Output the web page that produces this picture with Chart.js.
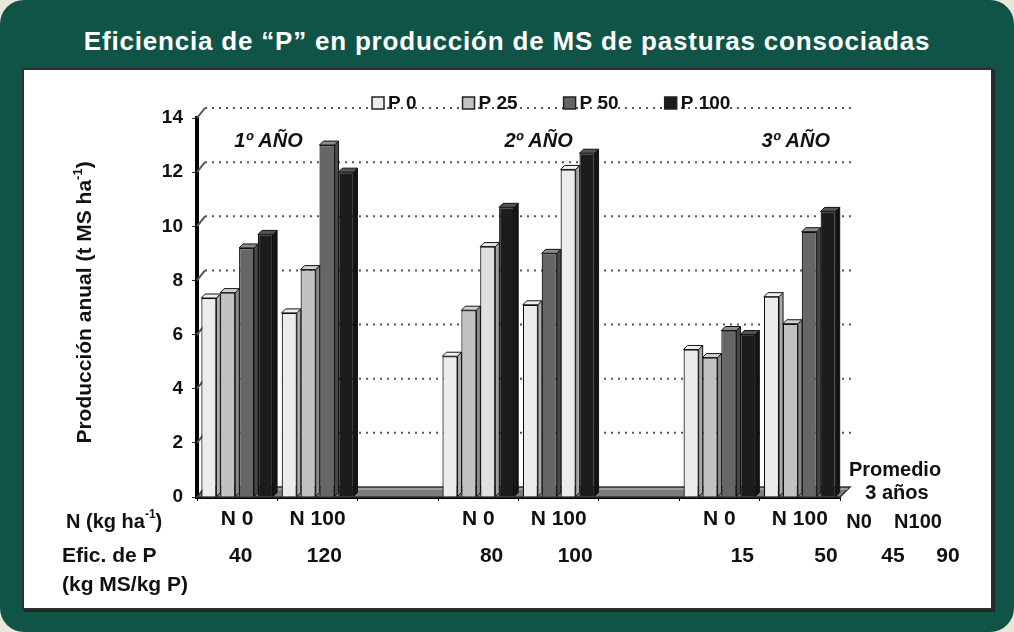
<!DOCTYPE html>
<html lang="es">
<head>
<meta charset="utf-8">
<title>Eficiencia de P</title>
<script src="https://cdn.jsdelivr.net/npm/chart.js@4.4.1/dist/chart.umd.min.js"></script>
<style>
  html, body { margin: 0; padding: 0; background: #e9e7d9; }
  #frame { position: absolute; left: 0; top: 0; width: 1014px; height: 632px; background: #0f5446; border-radius: 24px; }
  #title { position: absolute; left: 0; top: 26px; width: 1014px; text-align: center; color: #fff;
           font: bold 26px "Liberation Sans", Arial, sans-serif; letter-spacing: 0.8px; }
  #panel { position: absolute; left: 22px; top: 68px; width: 967px; height: 538px; background: #fff;
           border: 2px solid #2e2e2e; box-shadow: 2px 2px 0 #1d2a26; }
  canvas { display: block; }
</style>
</head>
<body>
<div id="frame">
  <div id="title">Eficiencia de “P” en producción de MS de pasturas consociadas</div>
  <div id="panel"><canvas id="chart" width="967" height="538"></canvas></div>
</div>
<script>
// data (t MS/ha)
const categories = ['N 0', 'N 100', '', 'N 0', 'N 100', '', 'N 0', 'N 100'];
const p0   = [7.35, 6.8,  null, 5.2,  7.1,  null, 5.45, 7.4];
const p25  = [7.55, 8.4,  null, 6.9,  9.0,  null, 5.15, 6.4];
const p50  = [9.2,  13.0, null, 9.25, 12.1, null, 6.15, 9.8];
const p100 = [9.7,  12.0, null, 10.7, 12.7, null, 6.0,  10.55];
const seriesNames = ['P 0', 'P 25', 'P 50', 'P 100'];
const eficiencia = ['40', '120', '', '80', '100', '', '15', '50'];
const years = ['1º AÑO', '2º AÑO', '3º AÑO'];
const promedioN = ['N0', 'N100'];
const promedioEfic = ['45', '90'];
const yTicks = [0, 2, 4, 6, 8, 10, 12, 14];

const WHITE = '#ececec', LIGHT = '#c2c2c2', DARK = '#666666', BLACK = '#1c1c1c';
const legendColors = [WHITE, LIGHT, DARK, BLACK];
const FONT = '"Liberation Sans", Arial, sans-serif';
const DX = 4, DY = 4;       // bar depth
const WX = 8, WY = 10;      // back wall offset

function shade(hex, f) {
  const n = parseInt(hex.slice(1), 16);
  const c = [n >> 16, (n >> 8) & 255, n & 255].map(v => Math.max(0, Math.min(255, Math.round(f >= 1 ? v + (255 - v) * (f - 1) : v * f))));
  return 'rgb(' + c.join(',') + ')';
}

const backWall = {
  id: 'backWall',
  beforeDatasetsDraw(chart) {
    const { ctx, chartArea: a, scales: { y } } = chart;
    ctx.save();
    ctx.strokeStyle = '#555';
    ctx.lineWidth = 2;
    yTicks.slice(1).forEach(v => {
      const py = y.getPixelForValue(v);
      ctx.setLineDash([]);
      ctx.beginPath(); ctx.moveTo(a.left, py); ctx.lineTo(a.left + WX, py - WY); ctx.stroke();
      ctx.setLineDash([2, 5]);
      ctx.beginPath(); ctx.moveTo(a.left + WX, py - WY); ctx.lineTo(a.right + WX + 4, py - WY); ctx.stroke();
    });
    ctx.setLineDash([]);
    // floor
    const b = a.bottom;
    ctx.beginPath();
    ctx.moveTo(a.left, b); ctx.lineTo(a.left + WX, b - WY); ctx.lineTo(a.right + WX + 2, b - WY); ctx.lineTo(a.right, b);
    ctx.closePath();
    ctx.fillStyle = '#7c7c7c'; ctx.fill();
    ctx.strokeStyle = '#333'; ctx.lineWidth = 1.5; ctx.stroke();
    ctx.beginPath(); ctx.moveTo(a.left + WX, b - WY + 2); ctx.lineTo(a.right + WX, b - WY + 2);
    ctx.strokeStyle = '#bdbdbd'; ctx.lineWidth = 1; ctx.stroke();
    ctx.restore();
  },
  afterDatasetsDraw(chart) {
    const ctx = chart.ctx;
    ctx.save();
    ctx.strokeStyle = '#111';
    ctx.lineWidth = 1;
    chart.data.datasets.forEach((ds, di) => {
      const meta = chart.getDatasetMeta(di);
      meta.data.forEach((bar, i) => {
        if (ds.data[i] == null) return;
        const { x, y, base, width } = bar.getProps(['x', 'y', 'base', 'width'], true);
        const L = x - width / 2, R = x + width / 2;
        const col = ds.backgroundColor[i];
        ctx.beginPath();
        ctx.moveTo(R, y); ctx.lineTo(R + DX, y - DY); ctx.lineTo(R + DX, base - DY); ctx.lineTo(R, base);
        ctx.closePath();
        ctx.fillStyle = shade(col, 0.72); ctx.fill(); ctx.stroke();
        ctx.beginPath();
        ctx.moveTo(L, y); ctx.lineTo(L + DX, y - DY); ctx.lineTo(R + DX, y - DY); ctx.lineTo(R, y);
        ctx.closePath();
        ctx.fillStyle = shade(col, 1.25); ctx.fill(); ctx.stroke();
      });
    });
    ctx.restore();
  }
};

const texts = {
  id: 'texts',
  afterDraw(chart) {
    const { ctx, chartArea: a, scales: { x } } = chart;
    ctx.save();
    ctx.fillStyle = '#111';
    ctx.textBaseline = 'middle';

    // y title with superscript
    ctx.save();
    ctx.translate(61, (a.top + a.bottom) / 2 - 5);
    ctx.rotate(-Math.PI / 2);
    ctx.font = 'bold 21px ' + FONT;
    const t1 = 'Producción anual (t MS ha', t2 = '-1', t3 = ')';
    const w1 = ctx.measureText(t1).width, w3 = ctx.measureText(t3).width;
    ctx.font = 'bold 13px ' + FONT;
    const w2 = ctx.measureText(t2).width;
    let sx = -(w1 + w2 + w3) / 2;
    ctx.textAlign = 'left';
    ctx.font = 'bold 21px ' + FONT; ctx.fillText(t1, sx, 0); sx += w1;
    ctx.font = 'bold 13px ' + FONT; ctx.fillText(t2, sx, -7); sx += w2;
    ctx.font = 'bold 21px ' + FONT; ctx.fillText(t3, sx, 0);
    ctx.restore();

    // row labels on the left
    ctx.textAlign = 'left';
    ctx.font = 'bold 20px ' + FONT;
    const rowN = a.bottom + 25, rowE = a.bottom + 59;
    ctx.fillText('N (kg ha', 42, rowN);
    const wN = ctx.measureText('N (kg ha').width;
    ctx.font = 'bold 12px ' + FONT;
    ctx.fillText('-1', 42 + wN, rowN - 7);
    const wS = ctx.measureText('-1').width;
    ctx.font = 'bold 20px ' + FONT;
    ctx.fillText(')', 42 + wN + wS, rowN);
    ctx.font = 'bold 21px ' + FONT;
    ctx.fillText('Efic. de P', 38, rowE);
    ctx.fillText('(kg MS/kg P)', 38, rowE + 29);

    // efficiency row
    ctx.textAlign = 'center';
    eficiencia.forEach((v, i) => {
      const cx = x.getPixelForValue(i);
      ctx.fillText(v, a.left + (cx - a.left) * 1.04 + 2, rowE);
    });

    // three-year average on the right
    ctx.font = 'bold 20px ' + FONT;
    ctx.fillText('Promedio', a.right + 55, a.bottom - 27);
    ctx.fillText('3 años', a.right + 57, a.bottom - 4);
    ctx.fillText(promedioN[0], a.right + 19, rowN);
    ctx.fillText(promedioN[1], a.right + 78, rowN);
    ctx.font = 'bold 21px ' + FONT;
    ctx.fillText(promedioEfic[0], a.right + 53, rowE);
    ctx.fillText(promedioEfic[1], a.right + 108, rowE);

    // year labels
    ctx.font = 'italic bold 20px ' + FONT;
    [0.39, 3.75, 6.95].forEach((pos, k) => {
      ctx.fillText(years[k], x.getPixelForValue(pos), a.top + 23);
    });

    // legend
    ctx.font = 'bold 19px ' + FONT;
    ctx.textAlign = 'left';
    let lx = 348;
    const ly = a.top - 15;
    seriesNames.forEach((name, k) => {
      ctx.fillStyle = legendColors[k];
      ctx.fillRect(lx, ly - 6, 12, 12);
      ctx.strokeStyle = '#222'; ctx.lineWidth = 1.5;
      ctx.strokeRect(lx, ly - 6, 12, 12);
      ctx.fillStyle = '#111';
      ctx.fillText(name, lx + 16, ly + 1);
      lx += 16 + ctx.measureText(name).width + 46;
    });
    ctx.restore();
  }
};

new Chart(document.getElementById('chart'), {
  type: 'bar',
  data: {
    labels: categories,
    datasets: [
      { label: seriesNames[0], data: p0,   backgroundColor: [WHITE, WHITE, WHITE, WHITE, WHITE, WHITE, WHITE, WHITE] },
      { label: seriesNames[1], data: p25,  backgroundColor: [LIGHT, LIGHT, LIGHT, LIGHT, DARK, LIGHT, LIGHT, LIGHT] },
      { label: seriesNames[2], data: p50,  backgroundColor: [DARK, DARK, DARK, '#e0e0e0', WHITE, DARK, DARK, DARK] },
      { label: seriesNames[3], data: p100, backgroundColor: [BLACK, BLACK, BLACK, BLACK, BLACK, BLACK, BLACK, BLACK] }
    ]
  },
  options: {
    responsive: false,
    animation: false,
    layout: { padding: { left: 0, top: 48, right: 151, bottom: 0 } },
    datasets: { bar: { borderColor: '#111', borderWidth: 1.2, categoryPercentage: 0.94, barPercentage: 0.8 } },
    plugins: { legend: { display: false }, tooltip: { enabled: false } },
    scales: {
      x: {
        afterFit(s) { s.height = 111; },
        border: { color: '#000', width: 4 },
        grid: { drawOnChartArea: false, offset: true, tickLength: 4, color: '#000' },
        ticks: { color: '#111', font: { family: FONT, size: 21, weight: 'bold' }, padding: 6, maxRotation: 0, autoSkip: false }
      },
      y: {
        min: 0, max: 14,
        afterFit(s) { s.width = 173; },
        afterBuildTicks(s) { s.ticks = yTicks.map(v => ({ value: v })); },
        border: { color: '#000', width: 4 },
        grid: { drawOnChartArea: false, tickLength: 5, color: '#333' },
        ticks: { color: '#111', font: { family: FONT, size: 19, weight: 'bold' }, padding: 9 }
      }
    }
  },
  plugins: [backWall, texts]
});
</script>
</body>
</html>
